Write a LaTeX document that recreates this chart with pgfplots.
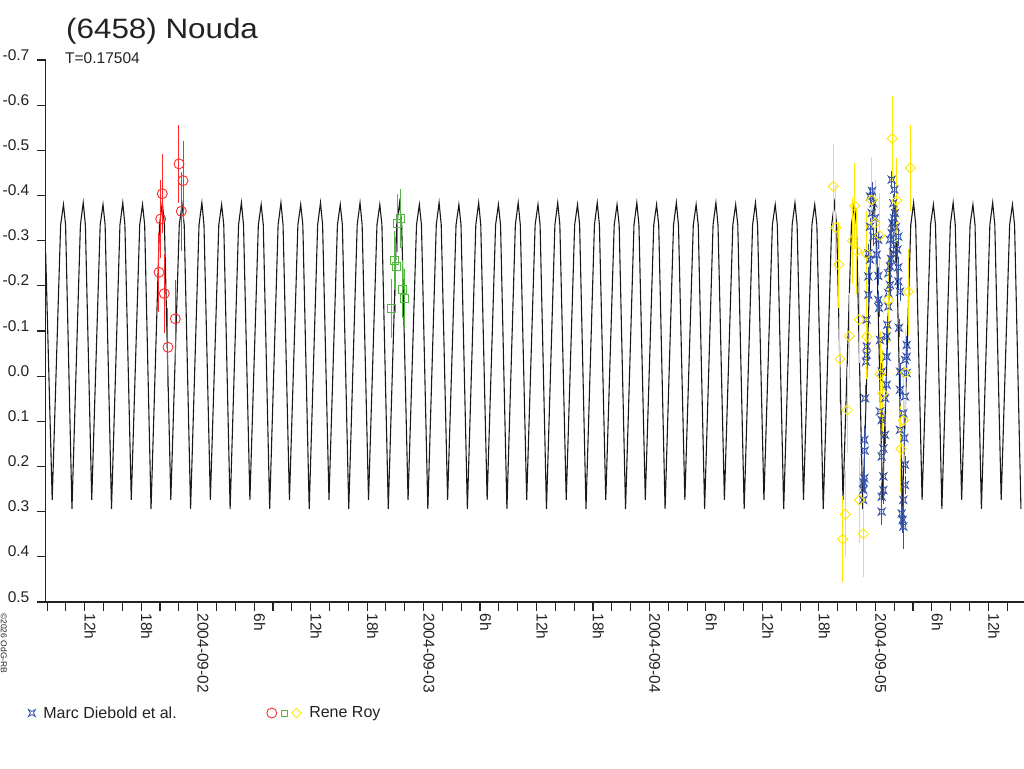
\documentclass[border=0pt]{standalone}
\usepackage{pgfplots}
\pgfplotsset{compat=1.18}
\usepackage{fontspec}
\setmainfont{Liberation Sans}
\definecolor{txt}{HTML}{222222}
\definecolor{royred}{HTML}{FF2A2A}
\definecolor{roygreen}{HTML}{55B545}
\definecolor{royyellow}{HTML}{FFE600}
\definecolor{diebold}{HTML}{3552A8}
\pgfdeclareplotmark{astroid}{%
 \pgfpathmoveto{\pgfqpoint{\pgfplotmarksize}{\pgfplotmarksize}}%
 \pgfpathlineto{\pgfqpoint{0pt}{0.45\pgfplotmarksize}}%
 \pgfpathlineto{\pgfqpoint{-\pgfplotmarksize}{\pgfplotmarksize}}%
 \pgfpathlineto{\pgfqpoint{-0.45\pgfplotmarksize}{0pt}}%
 \pgfpathlineto{\pgfqpoint{-\pgfplotmarksize}{-\pgfplotmarksize}}%
 \pgfpathlineto{\pgfqpoint{0pt}{-0.45\pgfplotmarksize}}%
 \pgfpathlineto{\pgfqpoint{\pgfplotmarksize}{-\pgfplotmarksize}}%
 \pgfpathlineto{\pgfqpoint{0.45\pgfplotmarksize}{0pt}}%
 \pgfpathclose\pgfusepathqstroke}

\pgfplotstableread{
t v e
0.8289 -0.230 0.087
0.8364 -0.348 0.087
0.8435 -0.404 0.087
0.8524 -0.183 0.087
0.8687 -0.064 0.087
0.9011 -0.127 0.087
0.9174 -0.470 0.087
0.9276 -0.365 0.087
0.9352 -0.433 0.087
}\royred

\pgfplotstableread{
t v e
1.8590 -0.150 0.065
1.8692 -0.257 0.065
1.8780 -0.243 0.065
1.8856 -0.339 0.065
1.8971 -0.349 0.065
1.9077 -0.193 0.065
1.9166 -0.173 0.065
}\roygreen

\pgfplotstableread{
t v e
3.8138 -0.420 0.095
3.8245 -0.329 0.095
3.8378 -0.247 0.095
3.8435 -0.038 0.095
3.8555 0.361 0.095
3.8670 0.306 0.095
3.8758 0.075 0.095
3.8847 -0.089 0.095
3.8980 -0.300 0.095
3.9086 -0.377 0.095
3.9174 -0.277 0.095
3.9285 -0.125 0.095
3.9295 0.274 0.095
3.9467 0.349 0.095
3.9617 -0.271 0.095
3.9625 -0.088 0.095
3.9838 -0.390 0.095
3.9985 -0.339 0.095
4.0193 -0.311 0.095
4.0206 -0.004 0.095
4.0325 0.038 0.095
4.0573 -0.169 0.095
4.0750 -0.526 0.095
4.0945 -0.389 0.095
4.1135 0.161 0.095
4.1237 0.098 0.095
4.1326 -0.008 0.095
4.1459 -0.187 0.095
4.1547 -0.461 0.095
}\royyellow

\pgfplotstableread{
t v e
3.9852 -0.410 0.02
3.9764 -0.398 0.02
3.9909 -0.383 0.02
3.9839 -0.361 0.02
3.9985 -0.350 0.02
3.9764 -0.331 0.02
3.9909 -0.309 0.02
4.0131 -0.302 0.02
3.9688 -0.272 0.02
4.0060 -0.269 0.02
3.9764 -0.258 0.02
3.9688 -0.221 0.02
4.0131 -0.222 0.02
3.9688 -0.180 0.02
4.0131 -0.169 0.02
4.0162 -0.151 0.02
3.9617 -0.125 0.02
3.9617 -0.066 0.02
4.0206 -0.080 0.02
3.9617 -0.047 0.02
3.9586 -0.032 0.02
3.9542 0.049 0.03
3.9511 0.141 0.03
3.9529 0.165 0.03
3.9511 0.226 0.03
3.9476 0.235 0.03
3.9467 0.252 0.03
3.9467 0.274 0.04
4.0724 -0.435 0.02
4.0838 -0.413 0.02
4.0794 -0.383 0.02
4.0869 -0.361 0.02
4.0825 -0.350 0.02
4.0750 -0.339 0.02
4.0913 -0.330 0.02
4.0724 -0.317 0.02
4.0648 -0.302 0.02
4.0781 -0.290 0.02
4.0869 -0.270 0.02
4.0693 -0.260 0.02
4.0648 -0.243 0.02
4.0573 -0.228 0.02
4.0648 -0.202 0.02
4.0573 -0.184 0.02
4.0573 -0.154 0.02
4.0529 -0.114 0.02
4.0502 -0.088 0.02
4.0502 -0.043 0.02
4.0281 -0.010 0.02
4.0502 0.019 0.02
4.0427 0.049 0.02
4.0206 0.078 0.02
4.0281 0.097 0.02
4.0427 0.130 0.02
4.0352 0.160 0.03
4.0281 0.178 0.03
4.0352 0.222 0.03
4.0352 0.252 0.03
4.0281 0.267 0.03
4.0281 0.300 0.03
4.1015 -0.309 0.02
4.0971 -0.280 0.02
4.1015 -0.241 0.02
4.1015 -0.210 0.02
4.1090 -0.187 0.02
4.1046 -0.107 0.02
4.1388 -0.069 0.02
4.1388 -0.043 0.02
4.1313 -0.036 0.02
4.1090 -0.010 0.02
4.1388 -0.007 0.02
4.1090 0.030 0.02
4.1313 0.045 0.02
4.1237 0.082 0.02
4.1090 0.119 0.02
4.1282 0.137 0.02
4.1313 0.196 0.02
4.1313 0.241 0.02
4.1237 0.274 0.03
4.1166 0.304 0.03
4.1210 0.318 0.03
4.1237 0.333 0.05
}\diebold

\begin{document}
\begin{tikzpicture}
\begin{axis}[
 scale only axis, width=978.5pt, height=542pt,
 xmin=0.32647, xmax=4.6581,
 ymin=-0.7, ymax=0.5, y dir=reverse,
 axis x line*=bottom, axis y line*=left,
 axis line style={-, line width=1.2pt, color=txt},
 tick style={line width=1.1pt, color=txt},
 tick align=outside, major tick length=8.5pt,
 ytick={-0.7,-0.6,-0.5,-0.4,-0.3,-0.2,-0.1,0,0.1,0.2,0.3,0.4,0.5},
 yticklabels={-0.7,-0.6,-0.5,-0.4,-0.3,-0.2,-0.1,0.0,0.1,0.2,0.3,0.4,0.5},
 xtick={0.333333,0.416667,...,4.6},
 xticklabels={,,12h,,,18h,,,2004-09-02,,,6h,,,12h,,,18h,,,2004-09-03,,,6h,,,12h,,,18h,,,2004-09-04,,,6h,,,12h,,,18h,,,2004-09-05,,,6h,,,12h,},
 ticklabel style={font=\fontsize{15.5}{18}\selectfont, text=txt, inner sep=0pt},
 yticklabel style={anchor=base east, xshift=-7.5pt},
 xticklabel style={rotate=-90, anchor=base west, xshift=3pt},
 legend style={draw=none, fill=none, inner sep=0pt, outer sep=0pt,
   at={(axis description cs:-0.01748,-0.2048)}, anchor=west,
   font=\fontsize{16}{19}\selectfont, text=txt,
   nodes={inner sep=0pt},
   /tikz/every odd column/.append style={column sep=8pt},
   /tikz/every even column/.append style={column sep=90pt}},
 legend columns=2, legend cell align=left,
 clip=false,
]
\addplot[color=black!90, line width=1.1pt, sharp plot, forget plot] coordinates {
(0.32700,-0.276)(0.35608,0.274)(0.39348,-0.335)
(0.40600,-0.380)(0.41540,-0.335)(0.44360,0.294)(0.48100,-0.335)
(0.49352,-0.384)(0.50292,-0.335)(0.53112,0.274)(0.56852,-0.335)
(0.58104,-0.380)(0.59044,-0.335)(0.61864,0.294)(0.65604,-0.335)
(0.66856,-0.384)(0.67796,-0.335)(0.70616,0.274)(0.74356,-0.335)
(0.75608,-0.380)(0.76548,-0.335)(0.79368,0.294)(0.83108,-0.335)
(0.84360,-0.384)(0.85300,-0.335)(0.88120,0.274)(0.91860,-0.335)
(0.93112,-0.380)(0.94052,-0.335)(0.96872,0.294)(1.00612,-0.335)
(1.01864,-0.384)(1.02804,-0.335)(1.05624,0.274)(1.09364,-0.335)
(1.10616,-0.380)(1.11556,-0.335)(1.14376,0.294)(1.18116,-0.335)
(1.19368,-0.384)(1.20308,-0.335)(1.23128,0.274)(1.26868,-0.335)
(1.28120,-0.380)(1.29060,-0.335)(1.31880,0.294)(1.35620,-0.335)
(1.36872,-0.384)(1.37812,-0.335)(1.40632,0.274)(1.44372,-0.335)
(1.45624,-0.380)(1.46564,-0.335)(1.49384,0.294)(1.53124,-0.335)
(1.54376,-0.384)(1.55316,-0.335)(1.58136,0.274)(1.61876,-0.335)
(1.63128,-0.380)(1.64068,-0.335)(1.66888,0.294)(1.70628,-0.335)
(1.71880,-0.384)(1.72820,-0.335)(1.75640,0.274)(1.79380,-0.335)
(1.80632,-0.380)(1.81572,-0.335)(1.84392,0.294)(1.88132,-0.335)
(1.89384,-0.384)(1.90324,-0.335)(1.93144,0.274)(1.96884,-0.335)
(1.98136,-0.380)(1.99076,-0.335)(2.01896,0.294)(2.05636,-0.335)
(2.06888,-0.384)(2.07828,-0.335)(2.10648,0.274)(2.14388,-0.335)
(2.15640,-0.380)(2.16580,-0.335)(2.19400,0.294)(2.23140,-0.335)
(2.24392,-0.384)(2.25332,-0.335)(2.28152,0.274)(2.31892,-0.335)
(2.33144,-0.380)(2.34084,-0.335)(2.36904,0.294)(2.40644,-0.335)
(2.41896,-0.384)(2.42836,-0.335)(2.45656,0.274)(2.49396,-0.335)
(2.50648,-0.380)(2.51588,-0.335)(2.54408,0.294)(2.58148,-0.335)
(2.59400,-0.384)(2.60340,-0.335)(2.63160,0.274)(2.66900,-0.335)
(2.68152,-0.380)(2.69092,-0.335)(2.71912,0.294)(2.75652,-0.335)
(2.76904,-0.384)(2.77844,-0.335)(2.80664,0.274)(2.84404,-0.335)
(2.85656,-0.380)(2.86596,-0.335)(2.89416,0.294)(2.93156,-0.335)
(2.94408,-0.384)(2.95348,-0.335)(2.98168,0.274)(3.01908,-0.335)
(3.03160,-0.380)(3.04100,-0.335)(3.06920,0.294)(3.10660,-0.335)
(3.11912,-0.384)(3.12852,-0.335)(3.15672,0.274)(3.19412,-0.335)
(3.20664,-0.380)(3.21604,-0.335)(3.24424,0.294)(3.28164,-0.335)
(3.29416,-0.384)(3.30356,-0.335)(3.33176,0.274)(3.36916,-0.335)
(3.38168,-0.380)(3.39108,-0.335)(3.41928,0.294)(3.45668,-0.335)
(3.46920,-0.384)(3.47860,-0.335)(3.50680,0.274)(3.54420,-0.335)
(3.55672,-0.380)(3.56612,-0.335)(3.59432,0.294)(3.63172,-0.335)
(3.64424,-0.384)(3.65364,-0.335)(3.68184,0.274)(3.71924,-0.335)
(3.73176,-0.380)(3.74116,-0.335)(3.76936,0.294)(3.80676,-0.335)
(3.81928,-0.384)(3.82868,-0.335)(3.85688,0.274)(3.89428,-0.335)
(3.90680,-0.380)(3.91620,-0.335)(3.94440,0.294)(3.98180,-0.335)
(3.99432,-0.384)(4.00372,-0.335)(4.03192,0.274)(4.06932,-0.335)
(4.08184,-0.380)(4.09124,-0.335)(4.11944,0.294)(4.15684,-0.335)
(4.16936,-0.384)(4.17876,-0.335)(4.20696,0.274)(4.24436,-0.335)
(4.25688,-0.380)(4.26628,-0.335)(4.29448,0.294)(4.33188,-0.335)
(4.34440,-0.384)(4.35380,-0.335)(4.38200,0.274)(4.41940,-0.335)
(4.43192,-0.380)(4.44132,-0.335)(4.46952,0.294)(4.50692,-0.335)
(4.51944,-0.384)(4.52884,-0.335)(4.55704,0.274)(4.59444,-0.335)
(4.60696,-0.380)(4.61636,-0.335)(4.64456,0.294)
};
\addplot[forget plot, only marks, mark=astroid, mark size=3.5pt, color=diebold, line width=0.8pt,
  error bars/.cd, y dir=both, y explicit, error mark=none,
  error bar style={line width=0.9pt, diebold}]
  table[x=t, y=v, y error=e] {\diebold};
\addplot[forget plot, only marks, mark=o, mark size=5pt, color=royred, line width=0.9pt,
  error bars/.cd, y dir=both, y explicit, error mark=none,
  error bar style={line width=1pt, royred}]
  table[x=t, y=v, y error=e] {\royred};
\addplot[forget plot, only marks, mark=square, mark size=4pt, color=roygreen, line width=0.9pt,
  error bars/.cd, y dir=both, y explicit, error mark=none,
  error bar style={line width=1pt, roygreen}]
  table[x=t, y=v, y error=e] {\roygreen};
\addplot[forget plot, only marks, mark=square, mark size=3.6pt, mark options={rotate=45}, color=royyellow, line width=0.9pt,
  error bars/.cd, y dir=both, y explicit, error mark=none,
  error bar style={line width=1pt, royyellow}]
  table[x=t, y=v, y error=e] {\royyellow};
\addlegendimage{legend image code/.code={\draw[diebold, line width=0.8pt] plot[mark=astroid, mark size=3.5pt] coordinates {(0pt,0pt)};}}
\addlegendentry{Marc Diebold et al.}
\addlegendimage{legend image code/.code={%
 \draw[royred, line width=0.9pt] plot[mark=o, mark size=5pt] coordinates {(0pt,0pt)};
 \draw[roygreen, line width=0.9pt] plot[mark=square, mark size=3pt] coordinates {(12.7pt,0pt)};
 \draw[royyellow, line width=0.9pt] plot[mark=square, mark size=3.4pt, mark options={rotate=45}] coordinates {(24.7pt,0pt)};}}
\addlegendentry{Rene Roy}
\end{axis}
\node[anchor=base west, inner sep=0pt, text=txt, xscale=1.12, font=\fontsize{28}{32}\selectfont] at (20.5pt,563pt) {(6458) Nouda};
\node[anchor=base west, inner sep=0pt, text=txt, font=\fontsize{15.5}{18}\selectfont] at (19.5pt,538pt) {T=0.17504};
\node[anchor=base west, inner sep=0pt, text=txt, rotate=-90, font=\fontsize{8.5}{10}\selectfont] at (-44.5pt,-11pt) {©2026 OdG-RB};
\pgfresetboundingbox
\path[use as bounding box] (-45.5pt,-166pt) rectangle (978.5pt,602pt);
\end{tikzpicture}
\end{document}
